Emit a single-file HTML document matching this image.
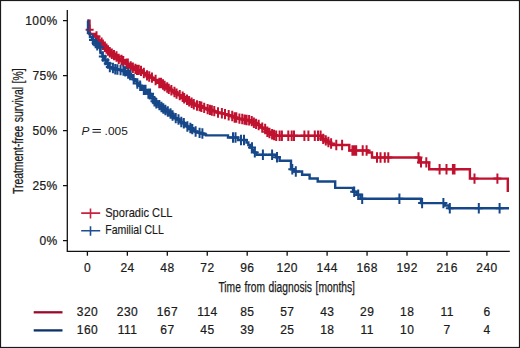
<!DOCTYPE html>
<html><head><meta charset="utf-8"><style>
html,body{margin:0;padding:0;background:#fff;}
svg{display:block;}
text{font-family:"Liberation Sans",sans-serif;fill:#1a1a1a;}
.n{font-size:12.0px;letter-spacing:0.45px;stroke:#1a1a1a;stroke-width:0.22px;}
</style></head><body>
<svg width="520" height="348" viewBox="0 0 520 348">
<rect x="0.5" y="0.5" width="519" height="347" fill="#fff" stroke="#1a1a1a" stroke-width="1.2"/>
<path d="M67.3,10V251.3H509.8" stroke="#111" stroke-width="1.3" fill="none"/>
<path d="M87.40,251V255.8M127.35,251V255.8M167.30,251V255.8M207.25,251V255.8M247.20,251V255.8M287.15,251V255.8M327.10,251V255.8M367.05,251V255.8M407.00,251V255.8M446.95,251V255.8M486.90,251V255.8M63,20.70H67.5M63,75.70H67.5M63,130.70H67.5M63,185.70H67.5M63,240.70H67.5" stroke="#111" stroke-width="1.3" fill="none"/>
<text x="57.75" y="24.65" text-anchor="end" class="n">100%</text><text x="57.75" y="79.65" text-anchor="end" class="n">75%</text><text x="57.75" y="134.65" text-anchor="end" class="n">50%</text><text x="57.75" y="189.65" text-anchor="end" class="n">25%</text><text x="57.75" y="244.65" text-anchor="end" class="n">0%</text>
<text x="87.55" y="271.7" text-anchor="middle" class="n">0</text><text x="127.50" y="271.7" text-anchor="middle" class="n">24</text><text x="167.45" y="271.7" text-anchor="middle" class="n">48</text><text x="207.40" y="271.7" text-anchor="middle" class="n">72</text><text x="247.35" y="271.7" text-anchor="middle" class="n">96</text><text x="287.30" y="271.7" text-anchor="middle" class="n">120</text><text x="327.25" y="271.7" text-anchor="middle" class="n">144</text><text x="367.20" y="271.7" text-anchor="middle" class="n">168</text><text x="407.15" y="271.7" text-anchor="middle" class="n">192</text><text x="447.10" y="271.7" text-anchor="middle" class="n">216</text><text x="487.05" y="271.7" text-anchor="middle" class="n">240</text>
<text x="286.7" y="291.9" text-anchor="middle" font-size="14" word-spacing="1" textLength="136.5" lengthAdjust="spacingAndGlyphs" stroke="#1a1a1a" stroke-width="0.25">Time from diagnosis [months]</text>
<text transform="translate(23.1,131.2) rotate(-90)" text-anchor="middle" font-size="14" word-spacing="1" textLength="125.5" lengthAdjust="spacingAndGlyphs" stroke="#1a1a1a" stroke-width="0.25">Treatment-free survival [%]</text>
<text x="81.6" y="134.6" font-size="11.8" font-style="italic">P</text><path d="M92.5,129.5H100.9M92.5,132.2H100.9" stroke="#1a1a1a" stroke-width="1.1"/><text x="104.6" y="134.6" font-size="11.8" textLength="23.2" lengthAdjust="spacingAndGlyphs">.005</text>
<path d="M87.40,20.70 L89.50,20.70 L89.50,34.00 L95.00,34.00 L95.00,36.50 L96.70,36.50 L96.70,38.50 L98.40,38.50 L98.40,40.50 L100.10,40.50 L100.10,42.60 L101.80,42.60 L101.80,44.70 L103.50,44.70 L103.50,46.80 L105.43,46.80 L105.43,48.63 L107.37,48.63 L107.37,50.47 L109.30,50.47 L109.30,52.30 L111.23,52.30 L111.23,53.70 L113.17,53.70 L113.17,55.10 L115.10,55.10 L115.10,56.50 L116.90,56.50 L116.90,57.67 L118.70,57.67 L118.70,58.83 L120.50,58.83 L120.50,60.00 L122.33,60.00 L122.33,61.27 L124.17,61.27 L124.17,62.53 L126.00,62.53 L126.00,63.80 L128.23,63.80 L128.23,65.13 L130.47,65.13 L130.47,66.47 L132.70,66.47 L132.70,67.80 L134.78,67.80 L134.78,68.84 L136.86,68.84 L136.86,69.88 L138.94,69.88 L138.94,70.92 L141.02,70.92 L141.02,71.96 L143.10,71.96 L143.10,73.00 L145.02,73.00 L145.02,74.17 L146.93,74.17 L146.93,75.33 L148.85,75.33 L148.85,76.50 L150.77,76.50 L150.77,77.67 L152.68,77.67 L152.68,78.83 L154.60,78.83 L154.60,80.00 L156.90,80.00 L156.90,81.50 L159.20,81.50 L159.20,83.00 L161.50,83.00 L161.50,84.50 L163.75,84.50 L163.75,86.00 L166.00,86.00 L166.00,87.50 L168.00,87.50 L168.00,88.85 L170.00,88.85 L170.00,90.20 L172.00,90.20 L172.00,91.10 L174.00,91.10 L174.00,92.00 L176.25,92.00 L176.25,93.58 L178.50,93.58 L178.50,95.15 L180.75,95.15 L180.75,96.72 L183.00,96.72 L183.00,98.30 L185.25,98.30 L185.25,99.80 L187.50,99.80 L187.50,101.30 L189.75,101.30 L189.75,102.80 L192.00,102.80 L192.00,104.30 L193.93,104.30 L193.93,104.90 L195.86,104.90 L195.86,105.50 L197.79,105.50 L197.79,106.10 L199.71,106.10 L199.71,106.70 L201.64,106.70 L201.64,107.30 L203.57,107.30 L203.57,107.90 L205.50,107.90 L205.50,108.50 L207.42,108.50 L207.42,109.17 L209.33,109.17 L209.33,109.83 L211.25,109.83 L211.25,110.50 L213.17,110.50 L213.17,111.17 L215.08,111.17 L215.08,111.83 L217.00,111.83 L217.00,112.50 L218.88,112.50 L218.88,112.90 L220.76,112.90 L220.76,113.30 L222.64,113.30 L222.64,113.70 L224.52,113.70 L224.52,114.10 L226.40,114.10 L226.40,114.50 L228.42,114.50 L228.42,115.26 L230.44,115.26 L230.44,116.02 L232.46,116.02 L232.46,116.78 L234.48,116.78 L234.48,117.54 L236.50,117.54 L236.50,118.30 L238.43,118.30 L238.43,118.63 L240.37,118.63 L240.37,118.97 L242.30,118.97 L242.30,119.30 L244.23,119.30 L244.23,119.63 L246.17,119.63 L246.17,119.97 L248.10,119.97 L248.10,120.30 L250.00,120.30 L250.00,121.10 L251.90,121.10 L251.90,121.90 L253.80,121.90 L253.80,122.70 L255.73,122.70 L255.73,123.87 L257.67,123.87 L257.67,125.03 L259.60,125.03 L259.60,126.20 L261.53,126.20 L261.53,127.63 L263.47,127.63 L263.47,129.07 L265.40,129.07 L265.40,130.50 L267.30,130.50 L267.30,131.77 L269.20,131.77 L269.20,133.03 L271.10,133.03 L271.10,134.30 L273.05,134.30 L273.05,135.05 L275.00,135.05 L275.00,135.80 L318.80,135.80 L320.85,135.80 L320.85,137.33 L322.90,137.33 L322.90,138.87 L324.95,138.87 L324.95,140.40 L327.00,140.40 L327.00,141.93 L329.05,141.93 L329.05,143.47 L331.10,143.47 L331.10,145.00 L349.30,145.00 L349.30,150.50 L368.00,150.50 L368.00,152.50 L372.00,152.50 L372.00,157.50 L419.30,157.50 L419.30,162.40 L429.20,162.40 L429.20,169.30 L469.90,169.30 L469.90,178.60 L507.80,178.60 L507.80,192.10" stroke="#c0112f" stroke-width="2.4" fill="none"/>
<path d="M89.60,24.50V34.90M85.60,29.70H93.60M96.50,31.30V41.70M92.50,36.50H100.50M98.72,35.30V45.70M94.72,40.50H102.72M101.60,37.40V47.80M97.60,42.60H105.60M102.92,39.50V49.90M98.92,44.70H106.92M104.89,41.60V52.00M100.89,46.80H108.89M106.53,43.43V53.83M102.53,48.63H110.53M108.05,45.27V55.67M104.05,50.47H112.05M109.77,47.10V57.50M105.77,52.30H113.77M111.84,48.50V58.90M107.84,53.70H115.84M114.01,49.90V60.30M110.01,55.10H118.01M116.50,51.30V61.70M112.50,56.50H120.50M118.72,53.63V64.03M114.72,58.83H122.72M121.52,54.80V65.20M117.52,60.00H125.52M123.28,56.07V66.47M119.28,61.27H127.28M126.50,58.60V69.00M122.50,63.80H130.50M127.88,58.60V69.00M123.88,63.80H131.88M130.65,61.27V71.67M126.65,66.47H134.65M132.87,62.60V73.00M128.87,67.80H136.87M135.40,63.64V74.04M131.40,68.84H139.40M137.02,64.68V75.08M133.02,69.88H141.02M138.77,64.68V75.08M134.77,69.88H142.77M141.00,65.72V76.12M137.00,70.92H145.00M143.82,67.80V78.20M139.82,73.00H147.82M147.03,70.13V80.53M143.03,75.33H151.03M149.22,71.30V81.70M145.22,76.50H153.22M151.95,72.47V82.87M147.95,77.67H155.95M155.60,74.80V85.20M151.60,80.00H159.60M159.27,77.80V88.20M155.27,83.00H163.27M161.06,77.80V88.20M157.06,83.00H165.06M163.04,79.30V89.70M159.04,84.50H167.04M164.65,80.80V91.20M160.65,86.00H168.65M167.21,82.30V92.70M163.21,87.50H171.21M168.77,83.65V94.05M164.77,88.85H172.77M171.36,85.00V95.40M167.36,90.20H175.36M174.43,86.80V97.20M170.43,92.00H178.43M176.59,88.38V98.78M172.59,93.58H180.59M179.72,89.95V100.35M175.72,95.15H183.72M182.64,91.52V101.92M178.64,96.72H186.64M184.18,93.10V103.50M180.18,98.30H188.18M187.02,94.60V105.00M183.02,99.80H191.02M189.14,96.10V106.50M185.14,101.30H193.14M191.63,97.60V108.00M187.63,102.80H195.63M193.81,99.10V109.50M189.81,104.30H197.81M196.97,100.30V110.70M192.97,105.50H200.97M199.53,100.90V111.30M195.53,106.10H203.53M201.40,101.50V111.90M197.40,106.70H205.40M204.20,102.70V113.10M200.20,107.90H208.20M207.59,103.97V114.37M203.59,109.17H211.59M209.82,104.63V115.03M205.82,109.83H213.82M211.84,105.30V115.70M207.84,110.50H215.84M214.27,105.97V116.37M210.27,111.17H218.27M218.03,107.30V117.70M214.03,112.50H222.03M221.88,108.10V118.50M217.88,113.30H225.88M225.00,108.90V119.30M221.00,114.10H229.00M228.68,110.06V120.46M224.68,115.26H232.68M232.22,110.82V121.22M228.22,116.02H236.22M234.63,112.34V122.74M230.63,117.54H238.63M236.33,112.34V122.74M232.33,117.54H240.33M239.41,113.43V123.83M235.41,118.63H243.41M242.25,113.77V124.17M238.25,118.97H246.25M244.61,114.43V124.83M240.61,119.63H248.61M246.64,114.77V125.17M242.64,119.97H250.64M249.12,115.10V125.50M245.12,120.30H253.12M251.74,115.90V126.30M247.74,121.10H255.74M253.88,117.50V127.90M249.88,122.70H257.88M256.07,118.67V129.07M252.07,123.87H260.07M258.67,119.83V130.23M254.67,125.03H262.67M262.25,122.43V132.83M258.25,127.63H266.25M265.16,123.87V134.27M261.16,129.07H269.16M267.33,126.57V136.97M263.33,131.77H271.33M269.49,127.83V138.23M265.49,133.03H273.49M272.08,129.10V139.50M268.08,134.30H276.08M274.07,129.85V140.25M270.07,135.05H278.07M276.20,130.60V141.00M272.20,135.80H280.20M279.60,130.60V141.00M275.60,135.80H283.60M281.90,130.60V141.00M277.90,135.80H285.90M288.30,130.60V141.00M284.30,135.80H292.30M291.70,130.60V141.00M287.70,135.80H295.70M294.00,130.60V141.00M290.00,135.80H298.00M304.40,130.60V141.00M300.40,135.80H308.40M308.40,130.60V141.00M304.40,135.80H312.40M314.80,130.60V141.00M310.80,135.80H318.80M318.00,130.60V141.00M314.00,135.80H322.00M320.60,130.60V141.00M316.60,135.80H324.60M323.20,133.67V144.07M319.20,138.87H327.20M325.80,135.20V145.60M321.80,140.40H329.80M328.40,136.73V147.13M324.40,141.93H332.40M331.10,138.27V148.67M327.10,143.47H335.10M336.30,139.80V150.20M332.30,145.00H340.30M342.10,139.80V150.20M338.10,145.00H346.10M352.40,145.30V155.70M348.40,150.50H356.40M354.30,145.30V155.70M350.30,150.50H358.30M356.20,145.30V155.70M352.20,150.50H360.20M362.70,145.30V155.70M358.70,150.50H366.70M366.60,145.30V155.70M362.60,150.50H370.60M377.00,152.30V162.70M373.00,157.50H381.00M380.50,152.30V162.70M376.50,157.50H384.50M384.80,152.30V162.70M380.80,157.50H388.80M388.30,152.30V162.70M384.30,157.50H392.30M418.50,152.30V162.70M414.50,157.50H422.50M421.00,157.20V167.60M417.00,162.40H425.00M426.30,157.20V167.60M422.30,162.40H430.30M439.60,164.10V174.50M435.60,169.30H443.60M446.50,164.10V174.50M442.50,169.30H450.50M452.90,164.10V174.50M448.90,169.30H456.90M454.50,164.10V174.50M450.50,169.30H458.50M474.50,173.40V183.80M470.50,178.60H478.50M497.40,173.40V183.80M493.40,178.60H501.40" stroke="#c0112f" stroke-width="2.0" fill="none"/>
<path d="M87.40,20.70 L88.00,20.70 L88.00,33.00 L90.00,33.00 L90.00,37.00 L92.00,37.00 L92.00,40.00 L94.00,40.00 L94.00,43.00 L96.00,43.00 L96.00,45.25 L98.00,45.25 L98.00,47.50 L100.50,47.50 L100.50,53.00 L102.40,53.00 L102.40,56.50 L104.30,56.50 L104.30,60.00 L106.50,60.00 L106.50,63.50 L108.70,63.50 L108.70,67.00 L110.85,67.00 L110.85,68.00 L113.00,68.00 L113.00,69.00 L114.75,69.00 L114.75,69.25 L116.50,69.25 L116.50,69.50 L118.25,69.50 L118.25,69.75 L120.00,69.75 L120.00,70.00 L122.00,70.00 L122.00,70.67 L124.00,70.67 L124.00,71.33 L126.00,71.33 L126.00,72.00 L127.50,72.00 L127.50,73.50 L129.00,73.50 L129.00,75.00 L131.00,75.00 L131.00,77.15 L133.00,77.15 L133.00,79.30 L135.15,79.30 L135.15,81.40 L137.30,81.40 L137.30,83.50 L139.45,83.50 L139.45,85.75 L141.60,85.75 L141.60,88.00 L143.80,88.00 L143.80,89.90 L146.00,89.90 L146.00,91.80 L148.15,91.80 L148.15,93.65 L150.30,93.65 L150.30,95.50 L152.35,95.50 L152.35,98.40 L154.40,98.40 L154.40,101.30 L156.27,101.30 L156.27,103.20 L158.13,103.20 L158.13,105.10 L160.00,105.10 L160.00,107.00 L162.00,107.00 L162.00,108.50 L164.00,108.50 L164.00,110.00 L166.00,110.00 L166.00,111.50 L168.50,111.50 L168.50,113.50 L171.00,113.50 L171.00,115.50 L173.00,115.50 L173.00,116.83 L175.00,116.83 L175.00,118.17 L177.00,118.17 L177.00,119.50 L179.00,119.50 L179.00,120.77 L181.00,120.77 L181.00,122.03 L183.00,122.03 L183.00,123.30 L185.00,123.30 L185.00,124.87 L187.00,124.87 L187.00,126.43 L189.00,126.43 L189.00,128.00 L191.00,128.00 L191.00,129.17 L193.00,129.17 L193.00,130.33 L195.00,130.33 L195.00,131.50 L197.00,131.50 L197.00,132.17 L199.00,132.17 L199.00,132.83 L201.00,132.83 L201.00,133.50 L203.50,133.50 L203.50,134.45 L206.00,134.45 L206.00,135.40 L228.00,135.40 L228.00,137.50 L238.00,137.50 L238.00,140.00 L246.50,140.00 L246.50,142.50 L248.33,142.50 L248.33,145.00 L250.17,145.00 L250.17,147.50 L252.00,147.50 L252.00,150.00 L254.25,150.00 L254.25,152.40 L256.50,152.40 L256.50,154.80 L276.10,154.80 L276.10,157.30 L279.60,157.30 L279.60,160.80 L291.00,160.80 L291.00,169.20 L294.00,169.20 L294.00,171.50 L302.10,171.50 L302.10,174.80 L309.60,174.80 L309.60,178.50 L317.70,178.50 L317.70,181.50 L335.20,181.50 L335.20,187.90 L353.00,187.90 L353.00,191.80 L356.50,191.80 L356.50,194.80 L360.50,194.80 L360.50,198.80 L421.00,198.80 L421.00,203.10 L445.00,203.10 L445.00,205.50 L449.00,205.50 L449.00,208.20 L509.00,208.20" stroke="#164789" stroke-width="2.4" fill="none"/>
<path d="M93.00,34.80V45.20M89.00,40.00H97.00M95.64,37.80V48.20M91.64,43.00H99.64M97.24,40.05V50.45M93.24,45.25H101.24M100.17,42.30V52.70M96.17,47.50H104.17M102.81,51.30V61.70M98.81,56.50H106.81M105.41,54.80V65.20M101.41,60.00H109.41M107.78,58.30V68.70M103.78,63.50H111.78M109.83,61.80V72.20M105.83,67.00H113.83M112.93,62.80V73.20M108.93,68.00H116.93M115.23,64.05V74.45M111.23,69.25H119.23M117.44,64.30V74.70M113.44,69.50H121.44M120.55,64.80V75.20M116.55,70.00H124.55M123.42,65.47V75.87M119.42,70.67H127.42M125.30,66.13V76.53M121.30,71.33H129.30M128.13,68.30V78.70M124.13,73.50H132.13M130.14,69.80V80.20M126.14,75.00H134.14M133.66,74.10V84.50M129.66,79.30H137.66M137.35,78.30V88.70M133.35,83.50H141.35M140.14,80.55V90.95M136.14,85.75H144.14M143.81,84.70V95.10M139.81,89.90H147.81M145.55,84.70V95.10M141.55,89.90H149.55M148.36,88.45V98.85M144.36,93.65H152.36M150.07,88.45V98.85M146.07,93.65H154.07M152.69,93.20V103.60M148.69,98.40H156.69M154.47,96.10V106.50M150.47,101.30H158.47M156.33,98.00V108.40M152.33,103.20H160.33M159.37,99.90V110.30M155.37,105.10H163.37M161.48,101.80V112.20M157.48,107.00H165.48M163.29,103.30V113.70M159.29,108.50H167.29M165.39,104.80V115.20M161.39,110.00H169.39M167.81,106.30V116.70M163.81,111.50H171.81M170.53,108.30V118.70M166.53,113.50H174.53M172.58,110.30V120.70M168.58,115.50H176.58M175.73,112.97V123.37M171.73,118.17H179.73M178.49,114.30V124.70M174.49,119.50H182.49M181.30,116.83V127.23M177.30,122.03H185.30M183.82,118.10V128.50M179.82,123.30H187.82M187.36,121.23V131.63M183.36,126.43H191.36M190.36,122.80V133.20M186.36,128.00H194.36M192.31,123.97V134.37M188.31,129.17H196.31M195.61,126.30V136.70M191.61,131.50H199.61M199.58,127.63V138.03M195.58,132.83H203.58M202.38,128.30V138.70M198.38,133.50H206.38M233.00,132.30V142.70M229.00,137.50H237.00M235.50,132.30V142.70M231.50,137.50H239.50M241.00,134.80V145.20M237.00,140.00H245.00M244.00,134.80V145.20M240.00,140.00H248.00M252.00,142.30V152.70M248.00,147.50H256.00M254.80,147.20V157.60M250.80,152.40H258.80M262.90,149.60V160.00M258.90,154.80H266.90M272.10,149.60V160.00M268.10,154.80H276.10M277.00,152.10V162.50M273.00,157.30H281.00M292.30,164.00V174.40M288.30,169.20H296.30M295.80,166.30V176.70M291.80,171.50H299.80M354.20,186.60V197.00M350.20,191.80H358.20M358.20,189.60V200.00M354.20,194.80H362.20M362.20,193.60V204.00M358.20,198.80H366.20M399.40,193.60V204.00M395.40,198.80H403.40M422.10,197.90V208.30M418.10,203.10H426.10M443.40,197.90V208.30M439.40,203.10H447.40M449.80,203.00V213.40M445.80,208.20H453.80M478.80,203.00V213.40M474.80,208.20H482.80M499.60,203.00V213.40M495.60,208.20H503.60" stroke="#164789" stroke-width="2.0" fill="none"/>
<path d="M81.2,213.1H100.2M90.5,208.4V218.4" stroke="#c8223d" stroke-width="1.6" fill="none"/>
<path d="M81.2,230.8H100.2M90.5,226.2V235.8" stroke="#1d4f8e" stroke-width="1.6" fill="none"/>
<text x="105.2" y="216.7" font-size="11.9" textLength="67.3" lengthAdjust="spacingAndGlyphs" stroke="#1a1a1a" stroke-width="0.15">Sporadic CLL</text>
<text x="105.2" y="233.7" font-size="11.9" textLength="58.6" lengthAdjust="spacingAndGlyphs" stroke="#1a1a1a" stroke-width="0.15">Familial CLL</text>
<path d="M33.7,312.3H62.5" stroke="#9a0a2c" stroke-width="2.3"/>
<path d="M33.7,330.4H62.5" stroke="#0d3168" stroke-width="2.3"/>
<text x="87.55" y="316" text-anchor="middle" class="n">320</text><text x="127.50" y="316" text-anchor="middle" class="n">230</text><text x="167.45" y="316" text-anchor="middle" class="n">167</text><text x="207.40" y="316" text-anchor="middle" class="n">114</text><text x="247.35" y="316" text-anchor="middle" class="n">85</text><text x="287.30" y="316" text-anchor="middle" class="n">57</text><text x="327.25" y="316" text-anchor="middle" class="n">43</text><text x="367.20" y="316" text-anchor="middle" class="n">29</text><text x="407.15" y="316" text-anchor="middle" class="n">18</text><text x="447.10" y="316" text-anchor="middle" class="n">11</text><text x="487.05" y="316" text-anchor="middle" class="n">6</text><text x="87.55" y="334.3" text-anchor="middle" class="n">160</text><text x="127.50" y="334.3" text-anchor="middle" class="n">111</text><text x="167.45" y="334.3" text-anchor="middle" class="n">67</text><text x="207.40" y="334.3" text-anchor="middle" class="n">45</text><text x="247.35" y="334.3" text-anchor="middle" class="n">39</text><text x="287.30" y="334.3" text-anchor="middle" class="n">25</text><text x="327.25" y="334.3" text-anchor="middle" class="n">18</text><text x="367.20" y="334.3" text-anchor="middle" class="n">11</text><text x="407.15" y="334.3" text-anchor="middle" class="n">10</text><text x="447.10" y="334.3" text-anchor="middle" class="n">7</text><text x="487.05" y="334.3" text-anchor="middle" class="n">4</text>
</svg>
</body></html>
